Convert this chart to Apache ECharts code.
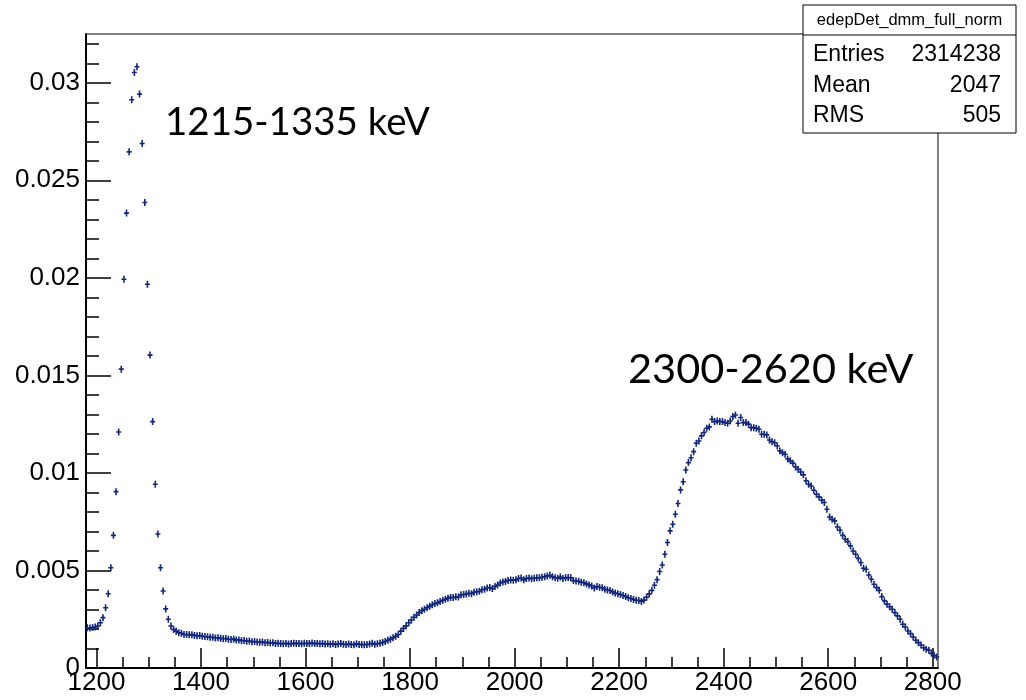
<!DOCTYPE html>
<html>
<head>
<meta charset="utf-8">
<script src="https://cdn.jsdelivr.net/npm/echarts@6/dist/echarts.min.js"></script>
<style>
html,body{margin:0;padding:0;background:#fff;}
#chart{width:1026px;height:700px;}
</style>
</head>
<body>
<div id="chart"></div>
<script>
// Histogram: edepDet_dmm_full_norm, 5 keV bins starting at 1180 keV
const binStart = 1180;
const binWidth = 5;
const normCounts = [
  0.00206, 0.00205, 0.00207, 0.00210, 0.00215, 0.00232, 0.00258, 0.00309, 0.00381, 0.00514,
  0.00680, 0.00904, 0.01210, 0.01532, 0.01993, 0.02332, 0.02646, 0.02913, 0.03053, 0.03082,
  0.02942, 0.02689, 0.02386, 0.01967, 0.01604, 0.01263, 0.00942, 0.00687, 0.00514, 0.00395,
  0.00303, 0.00250, 0.00215, 0.00197, 0.00189, 0.00181, 0.00178, 0.00172, 0.00172, 0.00170,
  0.00171, 0.00167, 0.00165, 0.00166, 0.00163, 0.00161, 0.00160, 0.00158, 0.00157, 0.00154,
  0.00155, 0.00152, 0.00150, 0.00151, 0.00147, 0.00146, 0.00148, 0.00143, 0.00144, 0.00140,
  0.00141, 0.00137, 0.00138, 0.00135, 0.00136, 0.00133, 0.00132, 0.00133, 0.00130, 0.00131,
  0.00128, 0.00129, 0.00126, 0.00127, 0.00125, 0.00124, 0.00126, 0.00123, 0.00125, 0.00127,
  0.00125, 0.00126, 0.00124, 0.00127, 0.00125, 0.00126, 0.00128, 0.00125, 0.00126, 0.00124,
  0.00125, 0.00123, 0.00124, 0.00122, 0.00124, 0.00121, 0.00123, 0.00125, 0.00122, 0.00120,
  0.00123, 0.00121, 0.00119, 0.00124, 0.00121, 0.00120, 0.00119, 0.00121, 0.00123, 0.00127,
  0.00122, 0.00124, 0.00127, 0.00131, 0.00136, 0.00142, 0.00148, 0.00155, 0.00163, 0.00172,
  0.00189, 0.00203, 0.00216, 0.00232, 0.00246, 0.00260, 0.00272, 0.00284, 0.00294, 0.00301,
  0.00309, 0.00316, 0.00324, 0.00330, 0.00334, 0.00341, 0.00347, 0.00352, 0.00358, 0.00362,
  0.00361, 0.00365, 0.00364, 0.00375, 0.00377, 0.00379, 0.00383, 0.00381, 0.00388, 0.00391,
  0.00393, 0.00401, 0.00404, 0.00410, 0.00413, 0.00407, 0.00418, 0.00425, 0.00436, 0.00441,
  0.00444, 0.00449, 0.00451, 0.00450, 0.00452, 0.00459, 0.00461, 0.00452, 0.00459, 0.00461,
  0.00458, 0.00460, 0.00463, 0.00462, 0.00465, 0.00468, 0.00472, 0.00475, 0.00468, 0.00463,
  0.00460, 0.00466, 0.00459, 0.00462, 0.00464, 0.00462, 0.00448, 0.00446, 0.00445, 0.00440,
  0.00437, 0.00431, 0.00426, 0.00420, 0.00410, 0.00418, 0.00414, 0.00411, 0.00404, 0.00400,
  0.00397, 0.00390, 0.00384, 0.00381, 0.00377, 0.00372, 0.00366, 0.00360, 0.00356, 0.00351,
  0.00347, 0.00346, 0.00341, 0.00348, 0.00363, 0.00380, 0.00398, 0.00424, 0.00453, 0.00495,
  0.00528, 0.00583, 0.00643, 0.00703, 0.00737, 0.00788, 0.00843, 0.00913, 0.00955, 0.01015,
  0.01053, 0.01078, 0.01109, 0.01152, 0.01164, 0.01190, 0.01207, 0.01229, 0.01236, 0.01275,
  0.01263, 0.01266, 0.01263, 0.01263, 0.01258, 0.01255, 0.01266, 0.01289, 0.01297, 0.01255,
  0.01284, 0.01258, 0.01258, 0.01250, 0.01232, 0.01232, 0.01229, 0.01224, 0.01198, 0.01198,
  0.01195, 0.01169, 0.01160, 0.01155, 0.01138, 0.01113, 0.01104, 0.01096, 0.01072, 0.01062,
  0.01050, 0.01030, 0.01018, 0.01005, 0.00990, 0.00960, 0.00942, 0.00933, 0.00911, 0.00891,
  0.00877, 0.00860, 0.00848, 0.00814, 0.00774, 0.00762, 0.00754, 0.00723, 0.00706, 0.00680,
  0.00660, 0.00648, 0.00626, 0.00600, 0.00583, 0.00562, 0.00540, 0.00511, 0.00506, 0.00477,
  0.00455, 0.00429, 0.00412, 0.00398, 0.00366, 0.00344, 0.00327, 0.00314, 0.00301, 0.00284,
  0.00267, 0.00250, 0.00224, 0.00210, 0.00190, 0.00176, 0.00159, 0.00142, 0.00130, 0.00118,
  0.00104, 0.00096, 0.00091, 0.00075, 0.00065, 0.00056
];
const xMin = 1180, xMax = 2810;
const yMin = 0, yMax = 0.0325;
const xMajorTicks = [1200, 1400, 1600, 1800, 2000, 2200, 2400, 2600, 2800];
const xMinorTicks = [1200, 1250, 1300, 1350, 1400, 1450, 1500, 1550, 1600, 1650, 1700, 1750,
  1800, 1850, 1900, 1950, 2000, 2050, 2100, 2150, 2200, 2250, 2300, 2350, 2400, 2450, 2500,
  2550, 2600, 2650, 2700, 2750, 2800];
const yMajorTicks = [0, 0.005, 0.01, 0.015, 0.02, 0.025, 0.03];
const yMinorTicks = [0, 0.001, 0.002, 0.003, 0.004, 0.005, 0.006, 0.007, 0.008, 0.009, 0.01,
  0.011, 0.012, 0.013, 0.014, 0.015, 0.016, 0.017, 0.018, 0.019, 0.02, 0.021, 0.022, 0.023,
  0.024, 0.025, 0.026, 0.027, 0.028, 0.029, 0.03, 0.031, 0.032];
const statsTitle = 'edepDet_dmm_full_norm';
const statsLabels = ['Entries', 'Mean', 'RMS'];
const statsValues = ['2314238', '2047', '505'];
const annotations = ['1215-1335 keV', '2300-2620 keV'];

const points = normCounts.map((v, i) => [binStart + binWidth * (i + 0.5), v]);

const markerColor = '#13277a';
const axisFont = 'Liberation Sans, Arial, Helvetica, sans-serif';
const plusPath = 'path://M1.7,0H3.3V2.7H5V4.3H3.3V7H1.7V4.3H0V2.7H1.7Z';

const chart = echarts.init(document.getElementById('chart'), null, {renderer: 'canvas'});

const statsX = 803, statsY = 5, statsW = 213, statsH = 128;
const statsGraphics = [
  {type: 'rect', z: 100, shape: {x: statsX, y: statsY, width: statsW, height: statsH},
   style: {fill: '#fff', stroke: '#000', lineWidth: 1}},
  {type: 'line', z: 101, shape: {x1: statsX, y1: 35, x2: statsX + statsW, y2: 35},
   style: {stroke: '#000', lineWidth: 1}},
  {type: 'text', z: 101, x: statsX + statsW / 2, y: 20,
   style: {text: statsTitle, font: '16.5px ' + axisFont, fill: '#000', align: 'center', verticalAlign: 'middle'}}
];
const rowY = [55, 86, 116];
statsLabels.forEach((lab, i) => {
  statsGraphics.push({type: 'text', z: 101, x: 813, y: rowY[i],
    style: {text: lab, font: '23px ' + axisFont, fill: '#000', align: 'left', verticalAlign: 'middle'}});
  statsGraphics.push({type: 'text', z: 101, x: 1001, y: rowY[i],
    style: {text: statsValues[i], font: '23px ' + axisFont, fill: '#000', align: 'right', verticalAlign: 'middle'}});
});
statsGraphics.push({type: 'text', z: 50, x: 165, y: 123,
  style: {text: annotations[0], font: '38.5px Lato, "Open Sans", sans-serif', fill: '#000', align: 'left', verticalAlign: 'middle'}});
statsGraphics.push({type: 'text', z: 50, x: 628, y: 370,
  style: {text: annotations[1], font: '41.5px Lato, "Open Sans", sans-serif', fill: '#000', align: 'left', verticalAlign: 'middle'}});

const option = {
  animation: false,
  backgroundColor: '#fff',
  grid: {left: 86, right: 88, top: 34, bottom: 32, show: true, borderColor: '#000', borderWidth: 1, backgroundColor: 'transparent'},
  xAxis: [
    {
      type: 'value', min: xMin, max: xMax, position: 'bottom',
      axisLine: {show: true, onZero: false, lineStyle: {color: '#000', width: 2}},
      axisTick: {show: true, inside: true, length: 20, customValues: xMajorTicks, lineStyle: {color: '#000', width: 1.5}},
      axisLabel: {show: true, customValues: xMajorTicks, fontSize: 26, fontFamily: axisFont, color: '#000', margin: 2,
                  formatter: (v) => String(v)},
      splitLine: {show: false}
    },
    {
      type: 'value', min: xMin, max: xMax, position: 'bottom', gridIndex: 0,
      axisLine: {show: false, onZero: false},
      axisTick: {show: true, inside: true, length: 11, customValues: xMinorTicks, lineStyle: {color: '#000', width: 1.5}},
      axisLabel: {show: false},
      splitLine: {show: false}
    }
  ],
  yAxis: [
    {
      type: 'value', min: yMin, max: yMax, position: 'left',
      axisLine: {show: true, onZero: false, lineStyle: {color: '#000', width: 2}},
      axisTick: {show: true, inside: true, length: 25, customValues: yMajorTicks, lineStyle: {color: '#000', width: 1.5}},
      axisLabel: {show: true, customValues: yMajorTicks, fontSize: 26, fontFamily: axisFont, color: '#000', margin: 6,
                  formatter: (v) => String(v)},
      splitLine: {show: false}
    },
    {
      type: 'value', min: yMin, max: yMax, position: 'left', gridIndex: 0,
      axisLine: {show: false, onZero: false},
      axisTick: {show: true, inside: true, length: 13, customValues: yMinorTicks, lineStyle: {color: '#000', width: 1.5}},
      axisLabel: {show: false},
      splitLine: {show: false}
    }
  ],
  series: [{
    type: 'scatter',
    xAxisIndex: 0, yAxisIndex: 0,
    data: points,
    symbol: plusPath,
    symbolSize: [5, 7],
    itemStyle: {color: markerColor, opacity: 1},
    emphasis: {disabled: true},
    silent: true
  }],
  graphic: statsGraphics
};
chart.setOption(option);
</script>
</body>
</html>
